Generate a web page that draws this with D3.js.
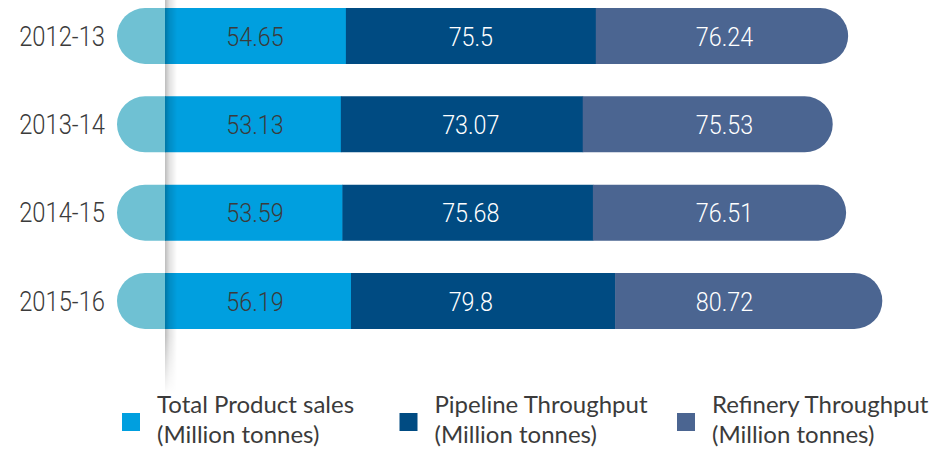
<!DOCTYPE html>
<html><head><meta charset="utf-8">
<script src="https://cdn.jsdelivr.net/npm/d3@7/dist/d3.min.js"></script>
<style>
html,body{margin:0;padding:0;background:#fff;}
svg{display:block;}
</style></head>
<body><svg id="chart" width="950" height="451"></svg>
<script>
const years = ["2012-13","2013-14","2014-15","2015-16"];
const seriesNames = ["Total Product sales","Pipeline Throughput","Refinery Throughput"];
const unitLabel = "(Million tonnes)";
const productSales = [54.65, 53.13, 53.59, 56.19];
const pipelineThroughput = [75.5, 73.07, 75.68, 79.8];
const refineryThroughput = [76.24, 75.53, 76.51, 80.72];
const seriesColors = ["#009fdf", "#004b82", "#4b6591"];
const capColor = "#6fc1d3";

const svg = d3.select("#chart");
const W = 950, H = 451;
const x0 = 165;
const x = d3.scaleLinear().domain([0, 220]).range([x0, x0 + 220*3.31]);
const y = d3.scalePoint().domain(years).range([36, 301]);
const barH = 56, r = 28;

const seriesValues = [productSales, pipelineThroughput, refineryThroughput];
const rows = years.map((yr,i)=>{
  let acc = 0;
  const segs = seriesValues.map((vals,k)=>{
    const s = {k, v: vals[i], start: acc, end: acc + vals[i]};
    acc += vals[i];
    return s;
  });
  return {yr, segs, total: acc};
});
// label columns: centre of each series' average segment
const colCenters = seriesValues.map((vals,k)=>{
  const meanStart = d3.mean(years.map((_,i)=>d3.sum(seriesValues.slice(0,k), v=>v[i])));
  return x(meanStart + d3.mean(vals)/2);
});

const defs = svg.append("defs");
const sg = defs.append("linearGradient").attr("id","shadowH").attr("x1","0").attr("x2","1").attr("y1","0").attr("y2","0");
sg.append("stop").attr("offset","0").attr("stop-color","#000").attr("stop-opacity",0.26);
sg.append("stop").attr("offset","0.35").attr("stop-color","#000").attr("stop-opacity",0.12);
sg.append("stop").attr("offset","1").attr("stop-color","#000").attr("stop-opacity",0);
const vg = defs.append("linearGradient").attr("id","fadeV").attr("x1","0").attr("x2","0").attr("y1","0").attr("y2","1");
vg.append("stop").attr("offset","0").attr("stop-color","#fff");
vg.append("stop").attr("offset","0.85").attr("stop-color","#fff");
vg.append("stop").attr("offset","1").attr("stop-color","#000");
const mask = defs.append("mask").attr("id","shadowMask").attr("maskUnits","userSpaceOnUse")
  .attr("x",0).attr("y",0).attr("width",W).attr("height",H);
mask.append("rect").attr("x",x0).attr("y",0).attr("width",12).attr("height",395).attr("fill","url(#fadeV)");

function pillPath(x1, x2, yc, leftRound, rightRound){
  const t = yc - barH/2, b = yc + barH/2;
  let p = "";
  if(leftRound){ p += `M${x1+r},${t}`; } else { p += `M${x1},${t}`; }
  if(rightRound){
    p += `L${x2-r},${t}A${r},${r} 0 0 1 ${x2-r},${b}`;
  } else {
    p += `L${x2},${t}L${x2},${b}`;
  }
  if(leftRound){ p += `L${x1+r},${b}A${r},${r} 0 0 1 ${x1+r},${t}Z`; }
  else { p += `L${x1},${b}Z`; }
  return p;
}

const g = svg.append("g");
const rowG = g.selectAll("g.row").data(rows).join("g").attr("class","row");

rowG.append("path")
  .attr("d", d=>pillPath(x0-48, x0+1, y(d.yr), true, false))
  .attr("fill", capColor);

rowG.selectAll("path.seg").data(d=>d.segs.map(s=>({...s, yr:d.yr}))).join("path")
  .attr("class","seg")
  .attr("d", s=>pillPath(x(s.start), x(s.end) + (s.k<2?0.5:0), y(s.yr), false, s.k===2))
  .attr("fill", s=>seriesColors[s.k]);

svg.append("rect").attr("x",x0).attr("y",0).attr("width",12).attr("height",395)
  .attr("fill","url(#shadowH)").attr("mask","url(#shadowMask)");

const fmt = v => String(v);
rowG.selectAll("text.val").data(d=>d.segs.map(s=>({...s, yr:d.yr}))).join("text")
  .attr("class","val")
  .attr("transform", s=>`translate(${colCenters[s.k]},${y(s.yr)+9.5}) scale(0.88,1)`)
  .attr("text-anchor","middle")
  .attr("font-family","Roboto")
  .attr("font-weight",300)
  .attr("font-size","26.5px")
  .attr("fill", s=>s.k===0?"#3b3b3b":"#ffffff")
  .text(s=>fmt(s.v));

rowG.append("text")
  .attr("transform", d=>`translate(105,${y(d.yr)+9.5}) scale(0.88,1)`)
  .attr("text-anchor","end")
  .attr("font-family","Roboto")
  .attr("font-weight",300)
  .attr("font-size","27px")
  .attr("fill","#3b3b3b")
  .text(d=>d.yr);

const legX = d3.scalePoint().domain(seriesNames).range([122, 677]);
const leg = svg.append("g").selectAll("g").data(seriesNames).join("g")
  .attr("transform", d=>`translate(${legX(d)},0)`);
leg.append("rect").attr("x",0).attr("y",413).attr("width",18).attr("height",18)
  .attr("fill",(d,i)=>seriesColors[i]);
const lt = leg.append("text").attr("font-family","Lato").attr("font-size","24px").attr("fill","#3b3b3b");
lt.append("tspan").attr("x",35).attr("y",413).text(d=>d);
lt.append("tspan").attr("x",35).attr("y",443).text(unitLabel);
</script></body></html>
